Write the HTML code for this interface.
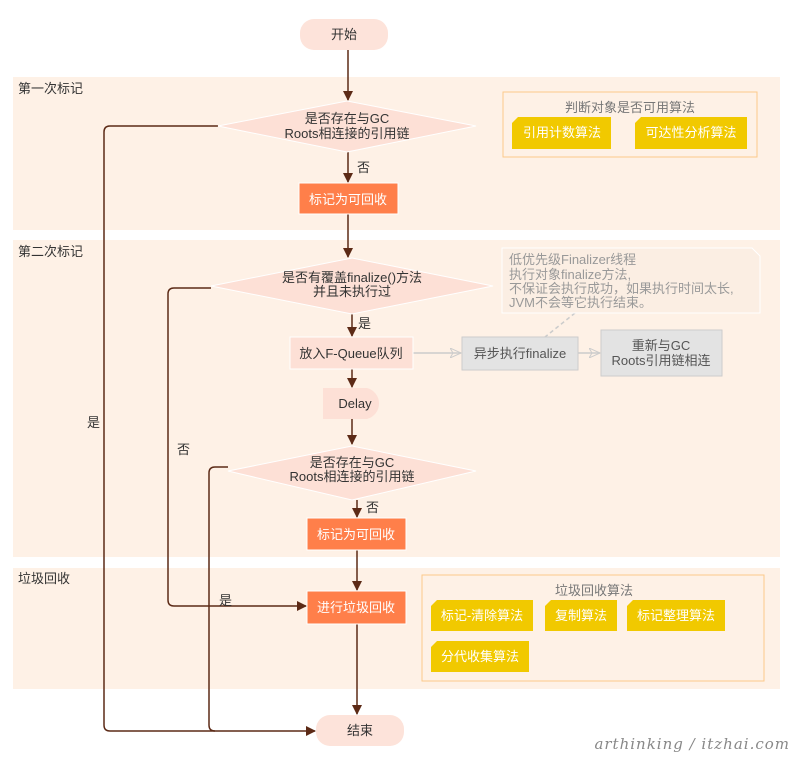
<!DOCTYPE html>
<html><head><meta charset="utf-8"><style>
body{margin:0;background:#fff}
svg text{font-family:"Liberation Sans","Noto Sans CJK SC",sans-serif;font-size:13px}
</style></head><body>
<svg width="800" height="763" viewBox="0 0 800 763" xmlns="http://www.w3.org/2000/svg">
<defs>
<marker id="a" markerWidth="10" markerHeight="10" refX="9" refY="5" orient="auto" markerUnits="userSpaceOnUse"><path d="M0,0 L10,5 L0,10 Z" fill="#5c2a16"/></marker>
<marker id="g" markerWidth="12" markerHeight="10" refX="11" refY="5" orient="auto" markerUnits="userSpaceOnUse"><path d="M0,0 L11,5 L0,10 L3,5 Z" fill="none" stroke="#ccc"/></marker>
</defs>
<rect x="13" y="77" width="767" height="153" fill="#fef1e6"/>
<rect x="13" y="240" width="767" height="317" fill="#fef1e6"/>
<rect x="13" y="568" width="767" height="121" fill="#fef1e6"/>
<g fill="#333"><text x="18" y="93">第一次标记</text><text x="18" y="256">第二次标记</text><text x="18" y="583">垃圾回收</text></g>

<g stroke="#5c2a16" stroke-width="1.5" fill="none">
<path d="M348,50 V100" marker-end="url(#a)"/>
<path d="M348,152 V182" marker-end="url(#a)"/>
<path d="M348,214 V257" marker-end="url(#a)"/>
<path d="M352,314 V336" marker-end="url(#a)"/>
<path d="M352,369 V387" marker-end="url(#a)"/>
<path d="M352,419 V444" marker-end="url(#a)"/>
<path d="M357,500 V517" marker-end="url(#a)"/>
<path d="M357,550 V590" marker-end="url(#a)"/>
<path d="M357,624 V714" marker-end="url(#a)"/>
<path d="M218,126 H110 Q104,126 104,132 V725 Q104,731 110,731 H315" marker-end="url(#a)"/>
<path d="M211,288 H174 Q168,288 168,294 V600 Q168,606 174,606 H306" marker-end="url(#a)"/>
<path d="M228,467 H215 Q209,467 209,473 V725 Q209,731 215,731"/>
</g>
<g stroke="#ccc" stroke-width="1.5" fill="none">
<path d="M413,353 H461" marker-end="url(#g)"/>
<path d="M578,353 H600" marker-end="url(#g)"/>
<path d="M575,313 L545,337" stroke-dasharray="4,3"/>
</g>

<rect x="300" y="19" width="88" height="31" rx="14" fill="#fde3da"/>
<text x="344" y="39" text-anchor="middle" fill="#333">开始</text>

<polygon points="218,126 347,101 476,126 347,152" fill="#fde0d6" stroke="#fff"/>
<text x="347" y="123" text-anchor="middle" fill="#333">是否存在与GC</text>
<text x="347" y="138" text-anchor="middle" fill="#333">Roots相连接的引用链</text>
<text x="357" y="172" fill="#333">否</text>

<rect x="299" y="183" width="99" height="31" fill="#ff7f4a" stroke="#fff"/>
<text x="348" y="204" text-anchor="middle" fill="#fff">标记为可回收</text>

<rect x="503" y="92" width="254" height="65" fill="none" stroke="#fcc98a"/>
<text x="630" y="112" text-anchor="middle" fill="#777">判断对象是否可用算法</text>
<path d="M518,117 H611 V149 H512 V123 Z" fill="#f1c900"/>
<text x="562" y="137" text-anchor="middle" fill="#fff">引用计数算法</text>
<path d="M641,117 H747 V149 H635 V123 Z" fill="#f1c900"/>
<text x="691" y="137" text-anchor="middle" fill="#fff">可达性分析算法</text>

<polygon points="211,286 352,258 493,286 352,314" fill="#fde0d6" stroke="#fff"/>
<text x="352" y="282" text-anchor="middle" fill="#333">是否有覆盖finalize()方法</text>
<text x="352" y="296" text-anchor="middle" fill="#333">并且未执行过</text>
<text x="358" y="328" fill="#333">是</text>

<path d="M502,248 H752 L760,256 V313 H502 Z" fill="#fbeee3" stroke="#fff"/>
<g fill="#999"><text x="509" y="264">低优先级Finalizer线程</text><text x="509" y="279">执行对象finalize方法,</text><text x="509" y="293">不保证会执行成功，如果执行时间太长,</text><text x="509" y="307">JVM不会等它执行结束。</text></g>

<rect x="290" y="337" width="123" height="32" fill="#fde0d6" stroke="#fff"/>
<text x="351" y="358" text-anchor="middle" fill="#333">放入F-Queue队列</text>
<rect x="462" y="337" width="116" height="33" fill="#e3e3e3" stroke="#ccc"/>
<text x="520" y="358" text-anchor="middle" fill="#555">异步执行finalize</text>
<rect x="601" y="330" width="121" height="46" fill="#e3e3e3" stroke="#ccc"/>
<text x="661" y="350" text-anchor="middle" fill="#555">重新与GC</text>
<text x="661" y="365" text-anchor="middle" fill="#555">Roots引用链相连</text>

<path d="M323,388 H367 A16,16 0 0 1 367,419 H323 Z" fill="#fde0d6"/>
<text x="355" y="408" text-anchor="middle" fill="#333">Delay</text>

<polygon points="228,471 352,446 476,471 352,500" fill="#fde0d6" stroke="#fff"/>
<text x="352" y="467" text-anchor="middle" fill="#333">是否存在与GC</text>
<text x="352" y="481" text-anchor="middle" fill="#333">Roots相连接的引用链</text>
<text x="366" y="512" fill="#333">否</text>
<text x="177" y="454" fill="#333">否</text>
<text x="219" y="605" fill="#333">是</text>
<text x="87" y="427" fill="#333">是</text>

<rect x="307" y="518" width="99" height="32" fill="#ff7f4a" stroke="#fff"/>
<text x="356" y="539" text-anchor="middle" fill="#fff">标记为可回收</text>
<rect x="307" y="591" width="99" height="33" fill="#ff7f4a" stroke="#fff"/>
<text x="356" y="612" text-anchor="middle" fill="#fff">进行垃圾回收</text>

<rect x="422" y="575" width="342" height="106" fill="none" stroke="#fcc98a"/>
<text x="594" y="595" text-anchor="middle" fill="#777">垃圾回收算法</text>
<path d="M437,600 H533 V631 H431 V606 Z" fill="#f1c900"/>
<text x="482" y="620" text-anchor="middle" fill="#fff">标记-清除算法</text>
<path d="M551,600 H617 V631 H545 V606 Z" fill="#f1c900"/>
<text x="581" y="620" text-anchor="middle" fill="#fff">复制算法</text>
<path d="M633,600 H725 V631 H627 V606 Z" fill="#f1c900"/>
<text x="676" y="620" text-anchor="middle" fill="#fff">标记整理算法</text>
<path d="M437,641 H529 V672 H431 V647 Z" fill="#f1c900"/>
<text x="480" y="661" text-anchor="middle" fill="#fff">分代收集算法</text>

<rect x="316" y="715" width="88" height="31" rx="14" fill="#fde3da"/>
<text x="360" y="735" text-anchor="middle" fill="#333">结束</text>

<text x="790" y="749" text-anchor="end" fill="#888" style="font-family:'DejaVu Serif',serif;font-style:italic;font-size:15px;letter-spacing:1px">arthinking / itzhai.com</text>
</svg>
</body></html>
